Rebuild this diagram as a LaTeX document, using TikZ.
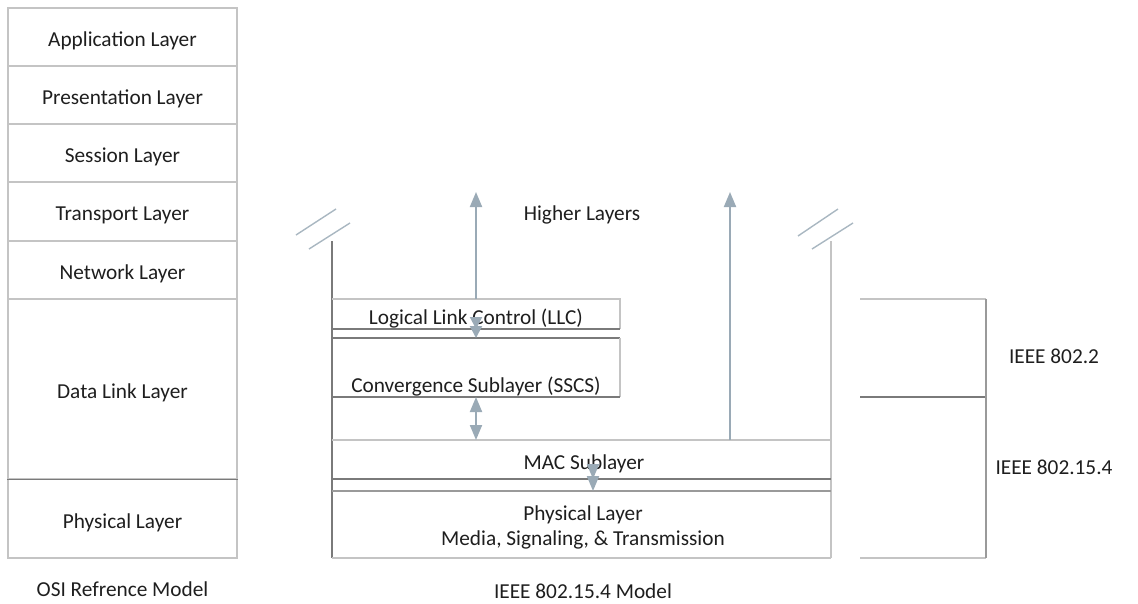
\documentclass[tikz,border=0pt]{standalone}
\usepackage{fontspec}
\setmainfont{Carlito}
\usetikzlibrary{arrows.meta}
\definecolor{lightline}{HTML}{C4C4C4}
\definecolor{darkline}{HTML}{7A7A7A}
\definecolor{midline}{HTML}{9A9A9A}
\definecolor{flowblue}{HTML}{9AAAB6}
\definecolor{txt}{HTML}{1E1E1E}
\begin{document}
\begin{tikzpicture}[x=1pt,y=-1pt,
  lbl/.style={font=\fontsize{21.3}{25}\selectfont, text=txt, inner sep=0pt, align=center, yshift=-2.5pt},
  celltext/.style={lbl, yshift=-1.5pt},
  osicell/.style={draw=lightline, line width=1.2pt, minimum width=229pt, inner sep=0pt},
  region/.style={inner sep=0pt, outer sep=0pt},
  lightrule/.style={draw=lightline, line width=1.2pt},
  darkrule/.style={draw=darkline, line width=1.2pt},
  midrule/.style={draw=midline, line width=1.2pt},
  slash/.style={draw=flowblue!85!white, line width=1.4pt},
  flowtip/.tip={Triangle[width=12pt,length=15pt]},
  shorttip/.tip={Triangle[width=12pt,length=12pt]},
  flow/.style={draw=flowblue, line width=2pt, -flowtip},
  flowboth/.style={draw=flowblue, line width=2pt, flowtip-flowtip},
  flowshort/.style={draw=flowblue, line width=2pt, shorttip-shorttip},
]
\useasboundingbox (0,0) rectangle (1138,603);

% ---------- OSI reference model ----------
\node[osicell, minimum height=58pt] (app)  at (122.5,37)    {};
\node[osicell, minimum height=58pt] (pres) at (122.5,95)    {};
\node[osicell, minimum height=58pt] (sess) at (122.5,153)   {};
\node[osicell, minimum height=59pt] (trans) at (122.5,211.5) {};
\node[osicell, minimum height=58pt] (net)  at (122.5,270)   {};
\node[osicell, minimum height=180pt] (dll) at (122.5,389)   {};
\node[osicell, minimum height=79pt] (phys) at (122.5,518.5) {};
\draw[darkrule] (dll.south west) -- (dll.south east);
\node[celltext] (apptext)   at (app)   {Application Layer};
\node[celltext] (prestext)  at (pres)  {Presentation Layer};
\node[celltext] (sesstext)  at (sess)  {Session Layer};
\node[celltext] (transtext) at (trans) {Transport Layer};
\node[celltext] (nettext)   at (net)   {Network Layer};
\node[celltext] (dlltext)   at (dll)   {Data Link Layer};
\node[celltext] (physt)     at (phys)  {Physical Layer};
\node[lbl] (osicap) at (122.5,587) {OSI Refrence Model};

% ---------- IEEE 802.15.4 model ----------
\coordinate (lefttop) at (332,241);
\coordinate (leftbot) at (332,558);
\coordinate (righttop) at (831,241);
\coordinate (rightbot) at (831,558);
\draw[darkrule] (lefttop) -- (leftbot);
\draw[lightrule] (righttop) -- (rightbot);

% break marks above the side walls
\draw[slash] (296,235) -- (336,209);
\draw[slash] (309,249) -- (350,223);
\draw[slash] (798,236) -- (838,209);
\draw[slash] (812,249) -- (853,223);

% sublayer regions
\node[region, minimum width=288pt, minimum height=30pt] (llc)  at (476,314)   {};
\node[region, minimum width=288pt, minimum height=59pt] (sscs) at (476,367.5) {};
\node[region, minimum width=499pt, minimum height=39pt] (mac)  at (581.5,459.5) {};
\node[region, minimum width=499pt, minimum height=67pt] (phy)  at (581.5,524.5) {};

\draw[lightrule] (llc.north west) -- (llc.north east) -- (llc.south east);
\draw[darkrule]  (llc.south west) -- (llc.south east);
\draw[darkrule]  (sscs.north west) -- (sscs.north east);
\draw[lightrule] (sscs.north east) -- (sscs.south east);
\draw[darkrule]  (sscs.south west) -- (sscs.south east);
\draw[lightrule] (mac.north west) -- (mac.north east);
\draw[darkrule]  (mac.south west) -- (mac.south east);
\draw[midrule]   (phy.north west) -- (phy.north east);
\draw[lightrule] (phy.south west) -- (phy.south east);

\node[lbl] (llctext)  at (476,316) {Logical Link Control (LLC)};
\node[lbl] (sscstext) at (476,384) {Convergence Sublayer (SSCS)};
\node[lbl] (mactext)  at (584,461) {MAC Sublayer};
\node[lbl] (phytext)  at (583,525) {Physical Layer\\Media, Signaling, \& Transmission};
\node[lbl] (higher)   at (582,212) {Higher Layers};
\node[lbl] (ieeecap)  at (583,589) {IEEE 802.15.4 Model};

% service flows
\coordinate (llcup)  at (476,192);
\coordinate (macx)   at (730,0);
\coordinate (macup)  at (730,192);
\coordinate (phyx)   at (593,0);
\draw[flow] (llc.north) -- (llcup);
\draw[flowshort] (llc.south) -- (sscs.north);
\draw[flowboth] (sscs.south) -- (mac.north -| sscs.south);
\draw[flow] (mac.north -| macx) -- (macup);
\draw[flowboth] (mac.south -| phyx) -- (phy.north -| phyx);

% ---------- standards bracket ----------
\coordinate (b1l) at (860,299);
\coordinate (b1r) at (986,299);
\coordinate (b2l) at (860,397);
\coordinate (b2r) at (986,397);
\coordinate (b3l) at (860,558);
\coordinate (b3r) at (986,558);
\draw[lightrule] (b1l) -- (b1r);
\draw[darkrule]  (b2l) -- (b2r);
\draw[lightrule] (b3l) -- (b3r);
\draw[midrule]   (b1r) -- (b3r);
\node[lbl] (std1) at (1054,354) {IEEE 802.2};
\node[lbl] (std2) at (1054,465) {IEEE 802.15.4};
\end{tikzpicture}
\end{document}
